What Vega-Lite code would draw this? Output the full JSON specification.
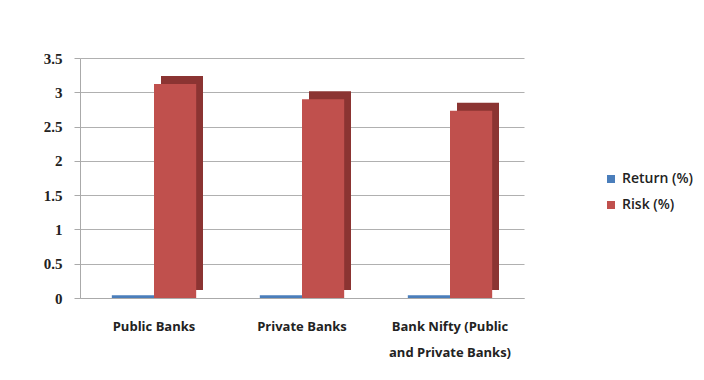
{
  "$schema": "https://vega.github.io/schema/vega-lite/v6.json",
  "width": 444,
  "height": 240,
  "autosize": {"type": "none"},
  "padding": {"left": 80, "top": 58, "right": 180, "bottom": 82},
  "background": "white",
  "data": {
    "values": [
      {"category": "Public Banks", "series": "Return (%)", "value": 0.04},
      {"category": "Public Banks", "series": "Risk (%)", "value": 3.12},
      {"category": "Private Banks", "series": "Return (%)", "value": 0.04},
      {"category": "Private Banks", "series": "Risk (%)", "value": 2.9},
      {"category": "Bank Nifty (Public and Private Banks)", "series": "Return (%)", "value": 0.04},
      {"category": "Bank Nifty (Public and Private Banks)", "series": "Risk (%)", "value": 2.73}
    ]
  },
  "encoding": {
    "x": {
      "field": "category", "type": "nominal", "sort": null,
      "scale": {"paddingInner": 0.43, "paddingOuter": 0.215},
      "axis": {
        "title": null, "labelAngle": 0, "labelFont": "Open Sans", "labelFontSize": 13,
        "labelFontWeight": "bold", "labelColor": "#222", "labelPadding": 22,
        "labelExpr": "datum.value == 'Bank Nifty (Public and Private Banks)' ? ['Bank Nifty (Public', 'and Private Banks)'] : datum.value",
        "labelLineHeight": 26,
        "domainColor": "#aaa", "ticks": false
      }
    },
    "y": {
      "field": "value", "type": "quantitative",
      "scale": {"domain": [0, 3.5]},
      "axis": {
        "title": null, "values": [0, 0.5, 1, 1.5, 2, 2.5, 3, 3.5], "format": "~g",
        "labelFont": "Liberation Serif", "labelFontSize": 15, "labelFontWeight": "bold", "labelColor": "#222",
        "labelPadding": 12, "domainColor": "#aaa", "tickColor": "#aaa", "tickSize": 6,
        "gridColor": "#b0b0b0", "gridWidth": 1.2
      }
    }
  },
  "layer": [
    {
      "mark": {"type": "bar", "width": 42, "xOffset": 28, "yOffset": -8, "color": "#8b3432"},
      "transform": [{"filter": "datum.series == 'Risk (%)'"}]
    },
    {
      "mark": {"type": "bar"},
      "encoding": {
        "xOffset": {"field": "series", "type": "nominal", "scale": {"paddingInner": 0}},
        "color": {
          "field": "series", "type": "nominal",
          "scale": {"domain": ["Return (%)", "Risk (%)"], "range": ["#4a7ebb", "#c0504d"]},
          "legend": {
            "title": null, "orient": "none", "legendX": 524, "legendY": 114,
            "symbolType": "square", "symbolSize": 64, "symbolStrokeWidth": 0,
            "labelFont": "Open Sans", "labelFontSize": 14, "labelFontWeight": 600, "labelColor": "#222",
            "rowPadding": 12, "labelOffset": 4
          }
        }
      }
    }
  ],
  "config": {"view": {"stroke": null}}
}
